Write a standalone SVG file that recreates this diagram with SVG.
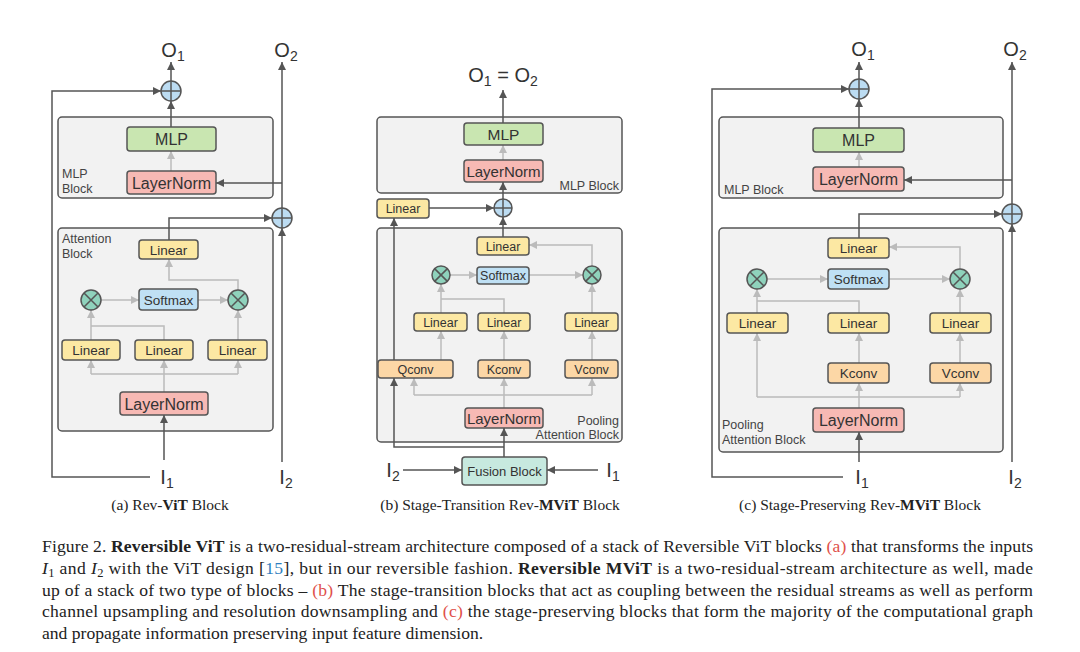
<svg xmlns="http://www.w3.org/2000/svg" width="1080" height="652" viewBox="0 0 1080 652">
<defs>
<marker id="ad" markerUnits="userSpaceOnUse" markerWidth="9" markerHeight="9" refX="8" refY="4" orient="auto"><path d="M0,0 L8,4 L0,8 z" fill="#555"/></marker>
<marker id="ag" markerUnits="userSpaceOnUse" markerWidth="9" markerHeight="9" refX="8" refY="4" orient="auto"><path d="M0,0 L8,4 L0,8 z" fill="#bbb"/></marker>
</defs>
<style>
.blk{fill:#f2f2f2;stroke:#555;stroke-width:1.5}
.n{stroke:#555;stroke-width:1.5}
.mlp{fill:#c9e6b1}
.ln{fill:#f7b9b4}
.lin{fill:#fce8a3}
.sm{fill:#bfe0f4}
.cv{fill:#fcd7a6}
.fu{fill:#c7e9df}
.t{font-family:"Liberation Sans",Arial,sans-serif;fill:#333;text-anchor:middle}
.bl{font-family:"Liberation Sans",Arial,sans-serif;fill:#444;font-size:12.5px}
.io{font-family:"Liberation Sans",Arial,sans-serif;fill:#333;font-size:20px;text-anchor:middle}
.d{fill:none;stroke:#555;stroke-width:1.5}
.da{fill:none;stroke:#555;stroke-width:1.5;marker-end:url(#ad)}
.g{fill:none;stroke:#bbb;stroke-width:1.5}
.ga{fill:none;stroke:#bbb;stroke-width:1.5;marker-end:url(#ag)}
.pc{fill:#bcdcf2;stroke:#555;stroke-width:1.5}
.xc{fill:#8fd2bc;stroke:#555;stroke-width:1.5}
.cap{font-family:"Liberation Serif","Times New Roman",serif;fill:#222}
.red{fill:#e0504a}
.blue{fill:#2f7fc0}
</style>

<!-- Panel a -->
<g id="a-blocks">
<rect class="blk" x="58" y="117" width="215" height="81" rx="4"/>
<text class="bl" x="62" y="178">MLP</text><text class="bl" x="62" y="193">Block</text>
<rect class="blk" x="58" y="228" width="215" height="203" rx="4"/>
<text class="bl" x="62" y="243">Attention</text><text class="bl" x="62" y="258">Block</text>
</g>
<g id="a-connectors">
<path class="da" d="M171,81 V62"/>
<path class="da" d="M150,477 H52 V91 H161"/>
<path class="da" d="M171,127 V101"/>
<path class="ga" d="M171,171 V151"/>
<path class="da" d="M282,462 V228"/>
<path class="da" d="M282,208 V62"/>
<path class="da" d="M282,183 H216"/>
<path class="da" d="M169,240 V218 H272"/>
<path class="da" d="M164,460 V415"/>
<path class="g" d="M164,392 V374 M91,374 H238"/>
<path class="ga" d="M91,374 V360"/><path class="ga" d="M164,374 V360"/><path class="ga" d="M238,374 V360"/>
<path class="ga" d="M91,340 V310"/>
<path class="g" d="M164,340 V326 H91"/>
<path class="ga" d="M238,340 V310"/>
<path class="ga" d="M101,300 H139"/>
<path class="ga" d="M198,300 H228"/>
<path class="ga" d="M238,290 V280 H169 V259"/>
</g>
<g id="a-O1"><text class="io" x="173" y="57">O<tspan font-size="14" dy="4">1</tspan></text></g>
<g id="a-O2"><text class="io" x="286" y="57">O<tspan font-size="14" dy="4">2</tspan></text></g>
<g id="a-plus1"><circle class="pc" cx="171" cy="91" r="10"/><path class="d" d="M161,91 H181 M171,81 V101"/></g>
<g id="a-plus2"><circle class="pc" cx="282" cy="218" r="10"/><path class="d" d="M272,218 H292 M282,208 V228"/></g>
<g id="a-mlp"><rect class="n mlp" x="127" y="127" width="89" height="24" rx="3"/><text class="t" x="171.5" y="145" font-size="16">MLP</text></g>
<g id="a-ln1"><rect class="n ln" x="127" y="171" width="89" height="23" rx="3"/><text class="t" x="171.5" y="188.5" font-size="16">LayerNorm</text></g>
<g id="a-lin-top"><rect class="n lin" x="139" y="240" width="59" height="19" rx="3"/><text class="t" x="168.5" y="254.5" font-size="13.5">Linear</text></g>
<g id="a-softmax"><rect class="n sm" x="139" y="289" width="59" height="21" rx="3"/><text class="t" x="168.5" y="304.5" font-size="13.5">Softmax</text></g>
<g id="a-x1"><circle class="xc" cx="91" cy="300" r="10"/><path class="d" d="M84,293 L98,307 M98,293 L84,307"/></g>
<g id="a-x2"><circle class="xc" cx="238" cy="300" r="10"/><path class="d" d="M231,293 L245,307 M245,293 L231,307"/></g>
<g id="a-lin1"><rect class="n lin" x="62" y="340" width="58" height="20" rx="3"/><text class="t" x="91" y="355" font-size="13.5">Linear</text></g>
<g id="a-lin2"><rect class="n lin" x="135" y="340" width="58" height="20" rx="3"/><text class="t" x="164" y="355" font-size="13.5">Linear</text></g>
<g id="a-lin3"><rect class="n lin" x="208" y="340" width="59" height="20" rx="3"/><text class="t" x="237.5" y="355" font-size="13.5">Linear</text></g>
<g id="a-ln2"><rect class="n ln" x="120" y="392" width="88" height="23" rx="3"/><text class="t" x="164" y="409.5" font-size="16">LayerNorm</text></g>
<g id="a-I1"><text class="io" x="167" y="484">I<tspan font-size="14" dy="4">1</tspan></text></g>
<g id="a-I2"><text class="io" x="286" y="484">I<tspan font-size="14" dy="4">2</tspan></text></g>
<text class="cap" x="170" y="510" font-size="15.5" text-anchor="middle">(a) Rev-<tspan font-weight="bold">ViT</tspan> Block</text>

<!-- Panel b -->
<g id="b-blocks">
<rect class="blk" x="377" y="117" width="245" height="76" rx="4"/>
<text class="bl" x="619" y="190" text-anchor="end" font-size="12">MLP Block</text>
<rect class="blk" x="377" y="228" width="245" height="214" rx="4"/>
<text class="bl" x="619" y="425" text-anchor="end" font-size="12">Pooling</text>
<text class="bl" x="619" y="439" text-anchor="end" font-size="12">Attention Block</text>
</g>
<g id="b-connectors">
<path class="da" d="M503,123 V90"/>
<path class="ga" d="M503,160 V145"/>
<path class="da" d="M429,208 H494"/>
<path class="da" d="M503,199 V182"/>
<path class="da" d="M503,237 V217"/>
<path class="da" d="M403,470 H462"/>
<path class="da" d="M598,470 H547"/>
<path class="da" d="M504,457 V428"/>
<path class="da" d="M504,447 H394 V378"/>
<path class="da" d="M394,360 V218"/>
<path class="g" d="M504,408 V395 M414,395 H592"/>
<path class="ga" d="M414,395 V378"/><path class="ga" d="M504,395 V378"/><path class="ga" d="M592,395 V378"/>
<path class="ga" d="M441,360 V331"/><path class="ga" d="M504,360 V331"/><path class="ga" d="M592,360 V331"/>
<path class="ga" d="M441,313 V284"/>
<path class="g" d="M504,313 V299 H441"/>
<path class="ga" d="M592,313 V284"/>
<path class="ga" d="M450,275 H477"/>
<path class="ga" d="M529,275 H583"/>
<path class="ga" d="M592,266 V245 H529"/>
</g>
<g id="b-O"><text class="io" x="503" y="82">O<tspan font-size="14" dy="4">1</tspan><tspan dy="-4"> = O</tspan><tspan font-size="14" dy="4">2</tspan></text></g>
<g id="b-mlp"><rect class="n mlp" x="464" y="123" width="79" height="22" rx="3"/><text class="t" x="503.5" y="140" font-size="15.5">MLP</text></g>
<g id="b-ln1"><rect class="n ln" x="464" y="160" width="79" height="22" rx="3"/><text class="t" x="503.5" y="176.5" font-size="15">LayerNorm</text></g>
<g id="b-lin-side"><rect class="n lin" x="377" y="199" width="52" height="19" rx="3"/><text class="t" x="403" y="213" font-size="12.5">Linear</text></g>
<g id="b-plus"><circle class="pc" cx="503" cy="208" r="9"/><path class="d" d="M494,208 H512 M503,199 V217"/></g>
<g id="b-lin-top"><rect class="n lin" x="477" y="237" width="52" height="18" rx="3"/><text class="t" x="503" y="250.5" font-size="12.5">Linear</text></g>
<g id="b-softmax"><rect class="n sm" x="477" y="267" width="52" height="17" rx="3"/><text class="t" x="503" y="280" font-size="12.5">Softmax</text></g>
<g id="b-x1"><circle class="xc" cx="441" cy="275" r="9"/><path class="d" d="M434.6,268.6 L447.4,281.4 M447.4,268.6 L434.6,281.4"/></g>
<g id="b-x2"><circle class="xc" cx="592" cy="275" r="9"/><path class="d" d="M585.6,268.6 L598.4,281.4 M598.4,268.6 L585.6,281.4"/></g>
<g id="b-lin1"><rect class="n lin" x="414" y="313" width="53" height="18" rx="3"/><text class="t" x="440.5" y="326.5" font-size="12.5">Linear</text></g>
<g id="b-lin2"><rect class="n lin" x="478" y="313" width="52" height="18" rx="3"/><text class="t" x="504" y="326.5" font-size="12.5">Linear</text></g>
<g id="b-lin3"><rect class="n lin" x="565" y="313" width="53" height="18" rx="3"/><text class="t" x="591.5" y="326.5" font-size="12.5">Linear</text></g>
<g id="b-qconv"><rect class="n cv" x="378" y="360" width="75" height="18" rx="3"/><text class="t" x="415.5" y="373.5" font-size="12.5">Qconv</text></g>
<g id="b-kconv"><rect class="n cv" x="478" y="360" width="52" height="18" rx="3"/><text class="t" x="504" y="373.5" font-size="12.5">Kconv</text></g>
<g id="b-vconv"><rect class="n cv" x="565" y="360" width="53" height="18" rx="3"/><text class="t" x="591.5" y="373.5" font-size="12.5">Vconv</text></g>
<g id="b-ln2"><rect class="n ln" x="465" y="408" width="78" height="20" rx="3"/><text class="t" x="504" y="423.5" font-size="15">LayerNorm</text></g>
<g id="b-fusion"><rect class="n fu" x="462" y="457" width="85" height="28" rx="3"/><text class="t" x="504.5" y="475.5" font-size="13">Fusion Block</text></g>
<g id="b-I2"><text class="io" x="393" y="477">I<tspan font-size="14" dy="4">2</tspan></text></g>
<g id="b-I1"><text class="io" x="613" y="477">I<tspan font-size="14" dy="4">1</tspan></text></g>
<text class="cap" x="500" y="510" font-size="15.5" text-anchor="middle">(b) Stage-Transition Rev-<tspan font-weight="bold">MViT</tspan> Block</text>

<!-- Panel c -->
<g id="c-blocks">
<rect class="blk" x="719" y="117" width="284" height="81" rx="4"/>
<text class="bl" x="724" y="194" font-size="13">MLP Block</text>
<rect class="blk" x="719" y="228" width="284" height="224" rx="4"/>
<text class="bl" x="722" y="429" font-size="13">Pooling</text>
<text class="bl" x="722" y="444" font-size="13">Attention Block</text>
</g>
<g id="c-connectors">
<path class="da" d="M859,79 V62"/>
<path class="da" d="M843,477 H712 V89 H849"/>
<path class="ga" d="M859,167 V152"/>
<path class="da" d="M859,128 V99"/>
<path class="da" d="M1012,462 V224"/>
<path class="da" d="M1012,204 V62"/>
<path class="da" d="M1012,180 H904"/>
<path class="da" d="M859,238 V214 H1002"/>
<path class="da" d="M859,462 V432"/>
<path class="g" d="M859,408 V397 M757,397 H960"/>
<path class="ga" d="M757,397 V333"/><path class="ga" d="M859,397 V383"/><path class="ga" d="M960,397 V383"/>
<path class="ga" d="M859,363 V333"/><path class="ga" d="M960,363 V333"/>
<path class="ga" d="M757,313 V289"/>
<path class="g" d="M859,313 V301 H757"/>
<path class="ga" d="M960,313 V289"/>
<path class="ga" d="M767,279 H828"/>
<path class="ga" d="M889,279 H950"/>
<path class="ga" d="M960,269 V247 H889"/>
</g>
<g id="c-O1"><text class="io" x="863" y="56">O<tspan font-size="14" dy="4">1</tspan></text></g>
<g id="c-O2"><text class="io" x="1015" y="56">O<tspan font-size="14" dy="4">2</tspan></text></g>
<g id="c-plus1"><circle class="pc" cx="859" cy="89" r="10"/><path class="d" d="M849,89 H869 M859,79 V99"/></g>
<g id="c-plus2"><circle class="pc" cx="1012" cy="214" r="10"/><path class="d" d="M1002,214 H1022 M1012,204 V224"/></g>
<g id="c-mlp"><rect class="n mlp" x="813" y="128" width="91" height="24" rx="3"/><text class="t" x="858.5" y="146" font-size="16">MLP</text></g>
<g id="c-ln1"><rect class="n ln" x="813" y="167" width="91" height="24" rx="3"/><text class="t" x="858.5" y="185" font-size="16">LayerNorm</text></g>
<g id="c-lin-top"><rect class="n lin" x="828" y="238" width="61" height="20" rx="3"/><text class="t" x="858.5" y="253" font-size="13.5">Linear</text></g>
<g id="c-softmax"><rect class="n sm" x="828" y="269" width="61" height="20" rx="3"/><text class="t" x="858.5" y="284" font-size="13.5">Softmax</text></g>
<g id="c-x1"><circle class="xc" cx="757" cy="279" r="10"/><path class="d" d="M750,272 L764,286 M764,272 L750,286"/></g>
<g id="c-x2"><circle class="xc" cx="960" cy="279" r="10"/><path class="d" d="M953,272 L967,286 M967,272 L953,286"/></g>
<g id="c-lin1"><rect class="n lin" x="727" y="313" width="61" height="20" rx="3"/><text class="t" x="757.5" y="328" font-size="13.5">Linear</text></g>
<g id="c-lin2"><rect class="n lin" x="828" y="313" width="61" height="20" rx="3"/><text class="t" x="858.5" y="328" font-size="13.5">Linear</text></g>
<g id="c-lin3"><rect class="n lin" x="930" y="313" width="61" height="20" rx="3"/><text class="t" x="960.5" y="328" font-size="13.5">Linear</text></g>
<g id="c-kconv"><rect class="n cv" x="828" y="363" width="61" height="20" rx="3"/><text class="t" x="858.5" y="378" font-size="13.5">Kconv</text></g>
<g id="c-vconv"><rect class="n cv" x="930" y="363" width="61" height="20" rx="3"/><text class="t" x="960.5" y="378" font-size="13.5">Vconv</text></g>
<g id="c-ln2"><rect class="n ln" x="813" y="408" width="91" height="24" rx="3"/><text class="t" x="858.5" y="426" font-size="16">LayerNorm</text></g>
<g id="c-I1"><text class="io" x="862" y="484">I<tspan font-size="14" dy="4">1</tspan></text></g>
<g id="c-I2"><text class="io" x="1015" y="484">I<tspan font-size="14" dy="4">2</tspan></text></g>
<text class="cap" x="860" y="510" font-size="15.5" text-anchor="middle">(c) Stage-Preserving Rev-<tspan font-weight="bold">MViT</tspan> Block</text>

<!-- Caption -->
<g id="caption" font-size="17.6">
<text class="cap" x="42" y="552" textLength="991" lengthAdjust="spacing">Figure 2. <tspan font-weight="bold">Reversible ViT</tspan> is a two-residual-stream architecture composed of a stack of Reversible ViT blocks <tspan class="red">(a)</tspan> that transforms the inputs</text>
<text class="cap" x="42" y="574" textLength="991" lengthAdjust="spacing"><tspan font-style="italic">I</tspan><tspan font-size="12.5" dy="3">1</tspan><tspan dy="-3"> and </tspan><tspan font-style="italic">I</tspan><tspan font-size="12.5" dy="3">2</tspan><tspan dy="-3"> with the ViT design [</tspan><tspan class="blue">15</tspan>], but in our reversible fashion.  <tspan font-weight="bold">Reversible MViT</tspan> is a two-residual-stream architecture as well, made</text>
<text class="cap" x="42" y="596" textLength="991" lengthAdjust="spacing">up of a stack of two type of blocks – <tspan class="red">(b)</tspan> The stage-transition blocks that act as coupling between the residual streams as well as perform</text>
<text class="cap" x="42" y="617" textLength="991" lengthAdjust="spacing">channel upsampling and resolution downsampling and <tspan class="red">(c)</tspan> the stage-preserving blocks that form the majority of the computational graph</text>
<text class="cap" x="42" y="639">and propagate information preserving input feature dimension.</text>
</g>
</svg>
